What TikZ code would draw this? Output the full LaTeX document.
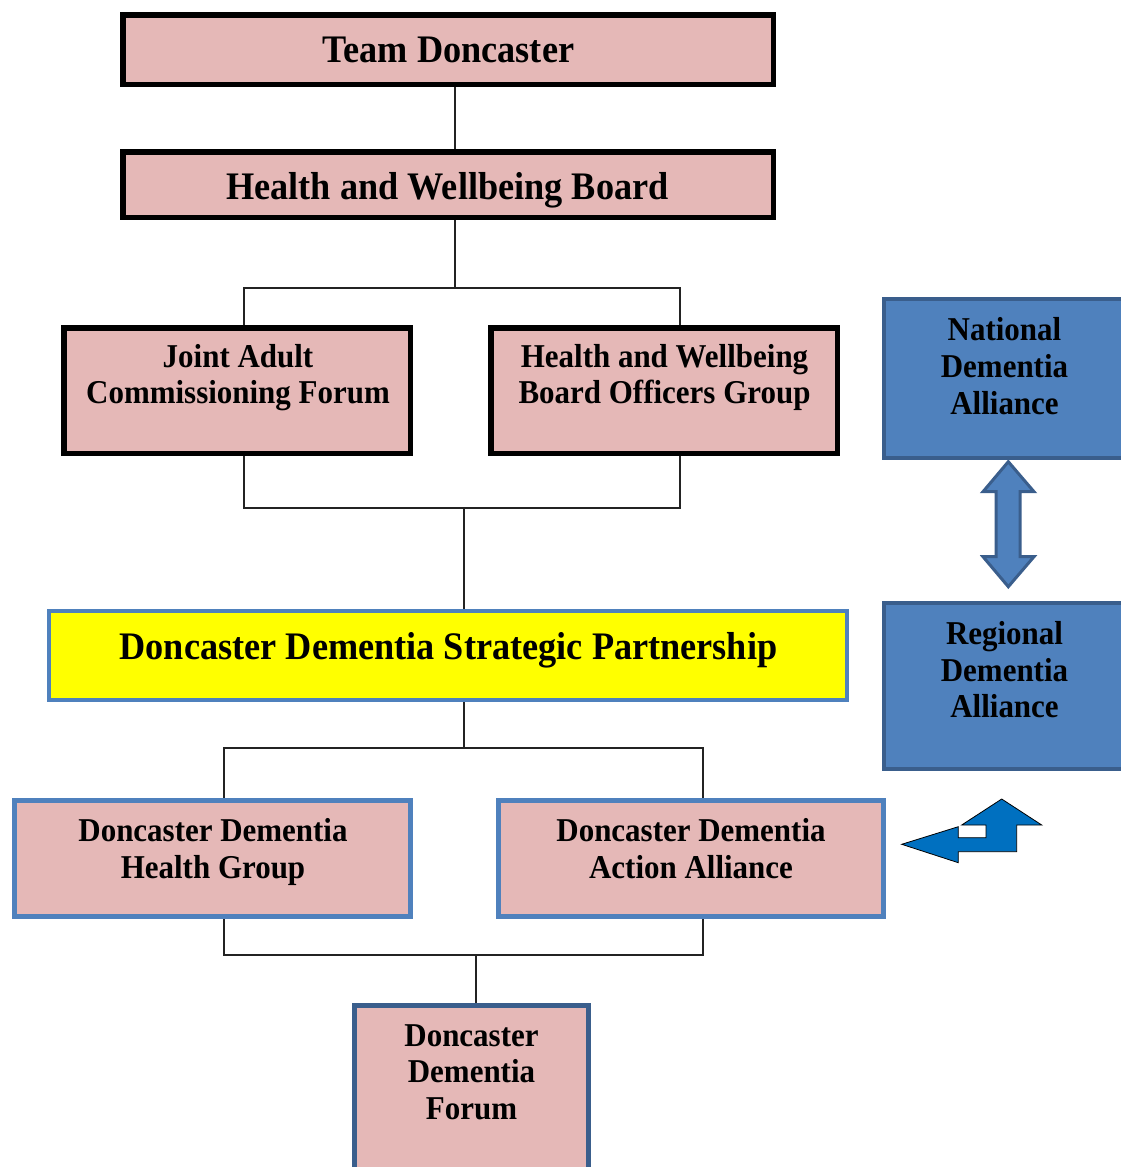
\documentclass[tikz,border=0pt]{standalone}
\usepackage{fontspec}
\setmainfont{Liberation Serif}[FakeStretch=0.93]
\usetikzlibrary{calc,backgrounds}
\definecolor{boxpink}{RGB}{229,184,183}
\definecolor{frameblue}{RGB}{79,129,189}
\definecolor{deepblue}{RGB}{58,94,140}
\definecolor{arrowblue}{RGB}{0,112,192}
\definecolor{wireblack}{RGB}{35,35,35}
\definecolor{partyellow}{RGB}{255,255,0}
\begin{document}
\begin{tikzpicture}[x=1pt,y=-1pt,
  darkbox/.style={rectangle, draw=black, line width=5.5pt, fill=boxpink, inner sep=0pt},
  bluebox/.style={rectangle, draw=frameblue, line width=5pt, fill=boxpink, inner sep=0pt},
  allybox/.style={rectangle, draw=deepblue, line width=4pt, fill=frameblue, inner sep=0pt},
  bigtxt/.style={font=\fontsize{39}{42}\selectfont\bfseries, align=center, inner sep=0pt,
    execute at begin node=\strut, execute at end node=\strut},
  smalltxt/.style={font=\fontsize{33.3}{36.7}\selectfont\bfseries, align=center, inner sep=0pt,
    execute at begin node=\strut, execute at end node=\strut},
  wire/.style={draw=wireblack, line width=1.2pt}]
\useasboundingbox (0,0) rectangle (1121,1167);
\clip (0,0) rectangle (1121,1167);

% governance boxes
\node[darkbox, minimum width=650.5pt, minimum height=69.5pt] (td) at (448,49.5) {};
\node[bigtxt] (tdt) at (448.5,54) {Team Doncaster};
\node[darkbox, minimum width=650.5pt, minimum height=65.5pt] (hwb) at (448,184.5) {};
\node[bigtxt] (hwbt) at (447.5,191) {Health and Wellbeing Board};

\node[darkbox, minimum width=346.5pt, minimum height=125.5pt] (jacf) at (237,390.5) {};
\node[smalltxt] (jacft) at (238,379.5) {Joint Adult\\Commissioning Forum};
\node[darkbox, minimum width=346.5pt, minimum height=125.5pt] (hwbog) at (664,390.5) {};
\node[smalltxt] (hwbogt) at (664.5,379.5) {Health and Wellbeing\\Board Officers Group};

% partnership
\node[rectangle, draw=frameblue, line width=4pt, fill=partyellow, inner sep=0pt,
      minimum width=798pt, minimum height=89pt] (ddsp) at (448,655.5) {};
\node[bigtxt] (ddspt) at (448.5,651) {Doncaster Dementia Strategic Partnership};

% delivery groups
\node[bluebox, minimum width=396pt, minimum height=116pt] (ddhg) at (212.5,858.5) {};
\node[smalltxt] (ddhgt) at (213,854) {Doncaster Dementia\\Health Group};
\node[bluebox, minimum width=385pt, minimum height=116pt] (ddaa) at (691,858.5) {};
\node[smalltxt] (ddaat) at (691,854) {Doncaster Dementia\\Action Alliance};

\node[bluebox, draw=deepblue, minimum width=234pt, minimum height=200pt] (forum) at (471.5,1105.5) {};
\node[smalltxt] (forumt) at (471.5,1077.5) {Doncaster\\Dementia\\Forum};

% alliances
\node[allybox, minimum width=240pt, minimum height=159pt] (nda) at (1004,378.5) {};
\node[smalltxt] (ndat) at (1004.5,371.5) {National\\Dementia\\Alliance};
\node[allybox, minimum width=240pt, minimum height=166pt] (rda) at (1004,686) {};
\node[smalltxt] (rdat) at (1004.5,675) {Regional\\Dementia\\Alliance};

% two-way link between the alliances
\draw[draw=deepblue, fill=frameblue, line width=3pt, line join=miter]
  (1008.3,461.7) -- (1034,491.7) -- (1020,491.7) -- (1020,556.7) -- (1034,556.7)
  -- (1008.3,586.7) -- (983,556.7) -- (996,556.7) -- (996,491.7) -- (983,491.7) -- cycle;

% bent arrow beside the action alliance
\draw[draw=black, fill=arrowblue, line width=0.8pt, line join=miter]
  (901.7,844.3) -- (958.3,826.7) -- (958.3,837.7) -- (986,837.7) -- (986,825)
  -- (961.7,825) -- (1001.7,799) -- (1041.7,825) -- (1016.7,825) -- (1016.7,851.7)
  -- (958.3,851.7) -- (958.3,862.7) -- cycle;

% connectors
\coordinate (split1) at (455,288);
\coordinate (join1) at (464,508);
\coordinate (split2) at (464,748);
\coordinate (join2) at (476,955);
\begin{scope}[on background layer]
  \draw[wire] ($(td.south)+(7,0)$) -- ($(hwb.north)+(7,0)$);
  \draw[wire] (hwb.south -| split1) -- (split1);
  \draw[wire] ($(jacf.north)+(7,0)$) |- (split1) -| ($(hwbog.north)+(16,0)$);
  \draw[wire] ($(jacf.south)+(7,0)$) |- (join1) -| ($(hwbog.south)+(16,0)$);
  \draw[wire] (join1) -- (join1 |- ddsp.north);
  \draw[wire] (ddsp.south -| split2) -- (split2);
  \draw[wire] ($(ddhg.north)+(11.5,0)$) |- (split2) -| ($(ddaa.north)+(12,0)$);
  \draw[wire] ($(ddhg.south)+(11.5,0)$) |- (join2) -| ($(ddaa.south)+(12,0)$);
  \draw[wire] (join2) -- (join2 |- forum.north);
\end{scope}
\end{tikzpicture}
\end{document}
